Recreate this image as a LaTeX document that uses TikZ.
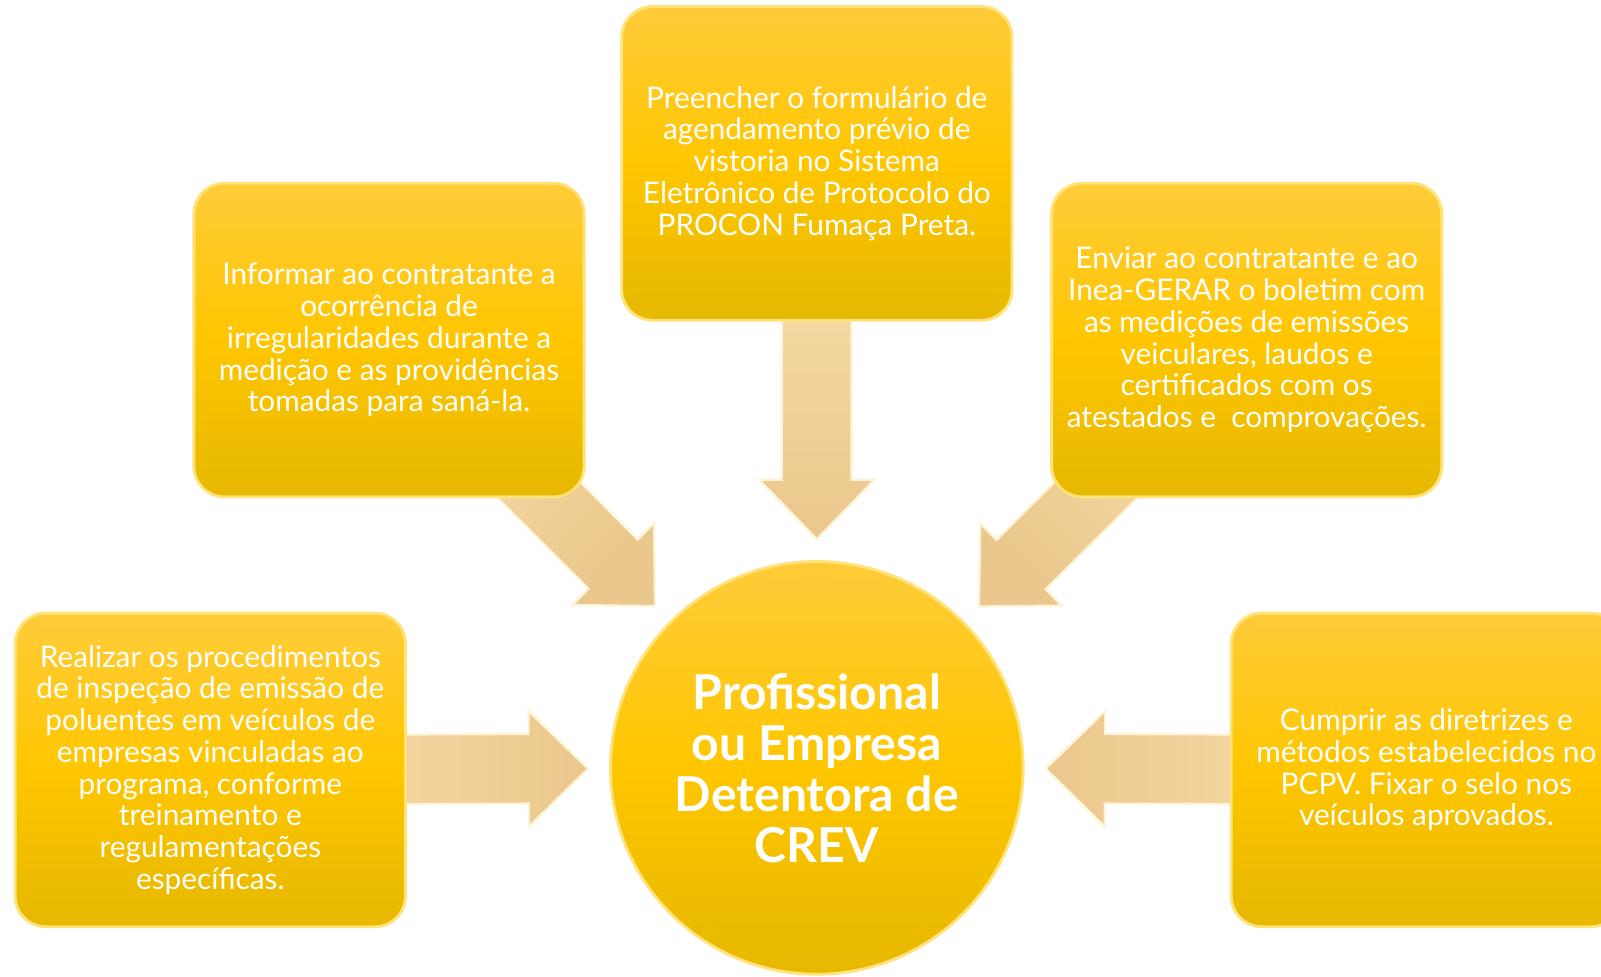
\documentclass[tikz,border=0pt]{standalone}
\usepackage{fontspec}
\setmainfont{Lato}
\usepackage{tikz}
\usetikzlibrary{calc,shapes,positioning,backgrounds}

\definecolor{boxtop}{HTML}{FFCC3A}
\definecolor{boxmid}{HTML}{FFC600}
\definecolor{boxbot}{HTML}{E6B800}
\definecolor{boxrim}{HTML}{FFE27A}
\definecolor{arrlight}{HTML}{FDE3B1}
\definecolor{arrdark}{HTML}{EAC78C}
\definecolor{arrrim}{HTML}{FFF3D6}

\begin{document}
\begin{tikzpicture}[x=0.01cm, y=-0.01cm]
      \tikzstyle{bnode} = [rectangle, rounded corners = 0.3cm, draw=boxrim, line width=0.8pt, top color=boxtop, bottom color=boxbot, middle color=boxmid, minimum width=3.82cm, minimum height=3.07cm, inner sep=2pt, align=center, text=white, font=\fontsize{8.3}{8.85}\selectfont]
      \tikzstyle{cnode} = [circle, draw=boxrim, line width=0.8pt, top color=boxtop, bottom color=boxbot, middle color=boxmid, minimum size=4.04cm, inner sep=0pt, align=center, text=white, font=\fontsize{13.4}{14.2}\selectfont\bfseries]
      \tikzstyle{barrow} = [draw=arrrim, line width=0.6pt, top color=arrlight, bottom color=arrdark,
        to path={($(\tikztotarget)!2.24cm!(\tikztostart)$) coordinate (tip)
          ($(tip)!0.58cm!(\tikztostart)$) coordinate (hb)
          (tip) -- ($(hb)!0.565cm!90:(\tikztostart)$) -- ($(hb)!0.34cm!90:(\tikztostart)$)
          -- ($(\tikztostart)!0.34cm!-90:(tip)$) -- ($(\tikztostart)!0.34cm!90:(tip)$)
          -- ($(hb)!0.34cm!-90:(\tikztostart)$) -- ($(hb)!0.565cm!-90:(\tikztostart)$) -- cycle}]

      \node[cnode] (crev) at (800,752) {Profissional\\ou Empresa\\Detentora de\\CREV};

      \node[bnode] (agenda) at (800,160) {Preencher o formulário de\\agendamento prévio de\\vistoria no Sistema\\Eletrônico de Protocolo do\\PROCON Fumaça Preta.};
      \node[bnode] (informar) at (381,333) {Informar ao contratante a\\ocorrência de\\irregularidades durante a\\medição e as providências\\tomadas para saná-la.};
      \node[bnode] (enviar) at (1221,333) {Enviar ao contratante e ao\\Inea-GERAR o boletim com\\as medições de emissões\\veiculares, laudos e\\certificados com os\\atestados e\ \ comprovações.};
      \node[bnode] (realizar) at (206,754) {Realizar os procedimentos\\de inspeção de emissão de\\poluentes em veículos de\\empresas vinculadas ao\\programa, conforme\\treinamento e\\regulamentações\\específicas.};
      \node[bnode] (cumprir) at (1397,754) {Cumprir as diretrizes e\\métodos estabelecidos no\\PCPV. Fixar o selo nos\\veículos aprovados.};

      % connections
      \begin{scope}[on background layer]
        \draw[barrow, shading angle=0] (agenda) to (crev);
        \draw[barrow, shading angle=45] (informar) to (crev);
        \draw[barrow, shading angle=-45] (enviar) to (crev);
        \draw[barrow, shading angle=90] (realizar) to (crev);
        \draw[barrow, shading angle=-90] (cumprir) to (crev);
      \end{scope}

      \pgfresetboundingbox
      \useasboundingbox (0,0) rectangle (1568,956);
\end{tikzpicture}
\end{document}
